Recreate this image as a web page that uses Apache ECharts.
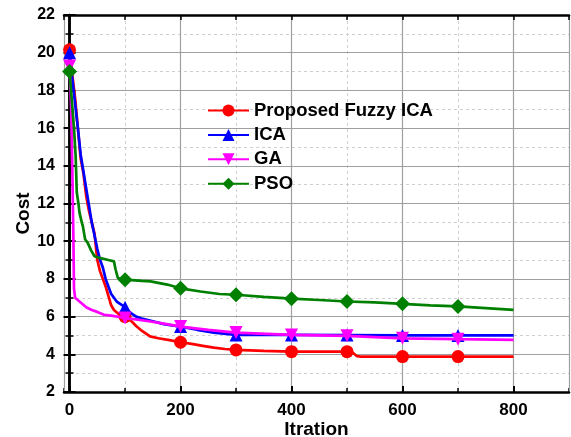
<!DOCTYPE html>
<html>
<head>
<meta charset="utf-8">
<script src="https://cdn.jsdelivr.net/npm/echarts@6/dist/echarts.min.js"></script>
<style>
html,body{margin:0;padding:0;background:#fff;}
#chart{width:571px;height:437px;}
</style>
</head>
<body>
<div id="chart"></div>
<script>
// ---- data ----
const seriesNames = ['Proposed Fuzzy ICA', 'ICA', 'GA', 'PSO'];
const markerIters = [0, 100, 200, 300, 400, 500, 600, 700];

const fuzzyIter = [0,5,10,15,20,25,30,35,40,45,50,55,60,65,70,75,80,90,100,110,120,130,145,160,180,200,220,240,260,280,300,350,400,450,500,510,518,525,600,700,800];
const fuzzyCost = [20.15,18.8,17.6,16.0,14.4,13.6,12.4,11.6,11.0,10.4,9.0,8.4,8.0,7.6,7.1,6.6,6.35,6.1,6.0,5.8,5.5,5.25,4.95,4.85,4.75,4.64,4.55,4.45,4.35,4.28,4.23,4.18,4.14,4.14,4.14,4.1,3.9,3.88,3.88,3.88,3.88];

const icaIter = [0,5,10,15,20,25,30,35,40,45,50,55,60,65,70,75,85,100,110,120,130,150,170,200,230,260,300,400,500,600,700,800];
const icaCost = [20.0,18.6,17.3,16.0,14.6,13.7,12.8,11.9,11.0,10.3,9.6,9.0,8.6,8.0,7.6,7.2,6.8,6.5,6.2,6.0,5.9,5.75,5.6,5.47,5.3,5.15,5.03,5.03,5.02,5.0,5.0,5.0];

const gaIter = [0,3,5,7,8,10,20,30,40,50,62,75,86,100,120,146,175,200,250,300,400,500,600,700,800];
const gaCost = [19.3,17.0,13.8,10.0,7.5,7.0,6.75,6.5,6.35,6.25,6.1,6.05,6.0,5.92,5.85,5.74,5.6,5.47,5.3,5.15,5.03,4.98,4.85,4.8,4.77];

const psoIter = [0,4,8,11,13,16,18,22,24,28,33,39,45,56,70,80,83,87,100,130,146,176,200,236,270,300,350,400,450,500,550,600,650,700,750,800];
const psoCost = [19.0,17.5,16.0,14.5,12.6,12.0,11.5,11.0,10.8,10.1,9.9,9.5,9.2,9.1,9.0,8.93,8.5,8.05,7.96,7.9,7.87,7.7,7.5,7.33,7.2,7.16,7.05,6.95,6.88,6.8,6.75,6.68,6.6,6.54,6.45,6.36];

const xTickLabels = ['0','200','400','600','800'];

// ---- chart ----
const FONT = 'Liberation Sans, Arial, sans-serif';
const colors = ['#ff0000', '#0000ff', '#ff00ff', '#008000'];
const shapes = ['circle', 'triangle', 'triangle', 'diamond'];
const rotates = [0, 0, 180, 0];
const sizes = [13, 13, 13, 15];
const iters = [fuzzyIter, icaIter, gaIter, psoIter];
const costs = [fuzzyCost, icaCost, gaCost, psoCost];

function makeData(xs, ys, shape) {
  return xs.map((x, i) => ({
    value: [x, ys[i]],
    symbol: markerIters.indexOf(x) >= 0 ? shape : 'none'
  }));
}

const series = seriesNames.map((name, k) => ({
  name: name,
  type: 'line',
  xAxisIndex: 0,
  yAxisIndex: 0,
  data: makeData(iters[k], costs[k], shapes[k]),
  symbol: shapes[k],
  symbolSize: sizes[k],
  symbolRotate: rotates[k],
  showSymbol: true,
  lineStyle: { color: colors[k], width: 2.7 },
  itemStyle: { color: colors[k] },
  z: 3 + k
}));

const axisLineStyle = { show: true, lineStyle: { color: '#000', width: 2.5 } };

const option = {
  animation: false,
  backgroundColor: '#fff',
  grid: { left: 64, right: 2, top: 15, bottom: 45, containLabel: false, outerBoundsMode: 'none' },
  legend: {
    orient: 'vertical',
    left: 207,
    top: 101,
    padding: 0,
    itemWidth: 41,
    itemHeight: 15,
    itemGap: 5.4,
    data: seriesNames,
    textStyle: { fontFamily: FONT, fontWeight: 'bold', fontSize: 18.5, color: '#000', lineHeight: 18, padding: [0,0,0,0] }
  },
  xAxis: [
    {
      type: 'value', position: 'bottom', min: -10, max: 900, splitNumber: 5,
      name: 'Itration', nameLocation: 'middle', nameGap: 28, nameMoveOverlap: false,
      nameTextStyle: { fontFamily: FONT, fontWeight: 'bold', fontSize: 19, color: '#000' },
      axisLine: axisLineStyle,
      axisTick: { show: true, inside: true, length: 6, lineStyle: { color: '#000', width: 2 } },
      axisLabel: {
        show: true, margin: 10, showMinLabel: false, showMaxLabel: false,
        fontFamily: FONT, fontWeight: 'bold', fontSize: 17, color: '#000',
        formatter: v => (xTickLabels.indexOf(String(v)) >= 0 ? String(v) : '')
      },
      splitLine: { show: true, lineStyle: { color: '#a0a0a0', width: 1.2 } },
      z: 2
    },
    {
      type: 'value', position: 'bottom', min: -10, max: 900, splitNumber: 10,
      axisLine: { show: false },
      axisTick: { show: true, inside: true, length: 4, lineStyle: { color: '#000', width: 1.5 } },
      axisLabel: { show: false },
      splitLine: { show: true, lineStyle: { color: '#cfcfcf', width: 1, type: [3, 3] } },
      z: 1
    },
    {
      type: 'value', position: 'top', min: -10, max: 900, splitNumber: 10,
      axisLine: axisLineStyle,
      axisTick: { show: true, inside: true, length: 5, lineStyle: { color: '#000', width: 1.5 } },
      axisLabel: { show: false },
      splitLine: { show: false },
      z: 2
    }
  ],
  yAxis: [
    {
      type: 'value', position: 'left', min: 2, max: 22, interval: 2,
      name: 'Cost', nameLocation: 'middle', nameGap: 31, nameRotate: 90, nameMoveOverlap: false,
      nameTextStyle: { fontFamily: FONT, fontWeight: 'bold', fontSize: 19, color: '#000', padding: [0, 20, 0, 0] },
      axisLine: axisLineStyle,
      axisTick: { show: true, inside: true, length: 6, lineStyle: { color: '#000', width: 2 } },
      minorTick: { show: true, splitNumber: 2, length: 4, lineStyle: { color: '#000', width: 1.5 } },
      axisLabel: { show: true, margin: 9, fontFamily: FONT, fontWeight: 'bold', fontSize: 16, color: '#000' },
      splitLine: { show: true, lineStyle: { color: '#a0a0a0', width: 1.2 } },
      minorSplitLine: { show: true, lineStyle: { color: '#cfcfcf', width: 1, type: [3, 3] } },
      z: 2
    },
    {
      type: 'value', position: 'right', min: 2, max: 22, interval: 2,
      axisLine: axisLineStyle,
      axisTick: { show: true, inside: true, length: 6, lineStyle: { color: '#000', width: 2 } },
      minorTick: { show: true, splitNumber: 2, length: 4, lineStyle: { color: '#000', width: 1.5 } },
      axisLabel: { show: false },
      splitLine: { show: false },
      z: 2
    }
  ],
  series: series
};

const chart = echarts.init(document.getElementById('chart'), null, { renderer: 'canvas' });
chart.setOption(option);
</script>
</body>
</html>
